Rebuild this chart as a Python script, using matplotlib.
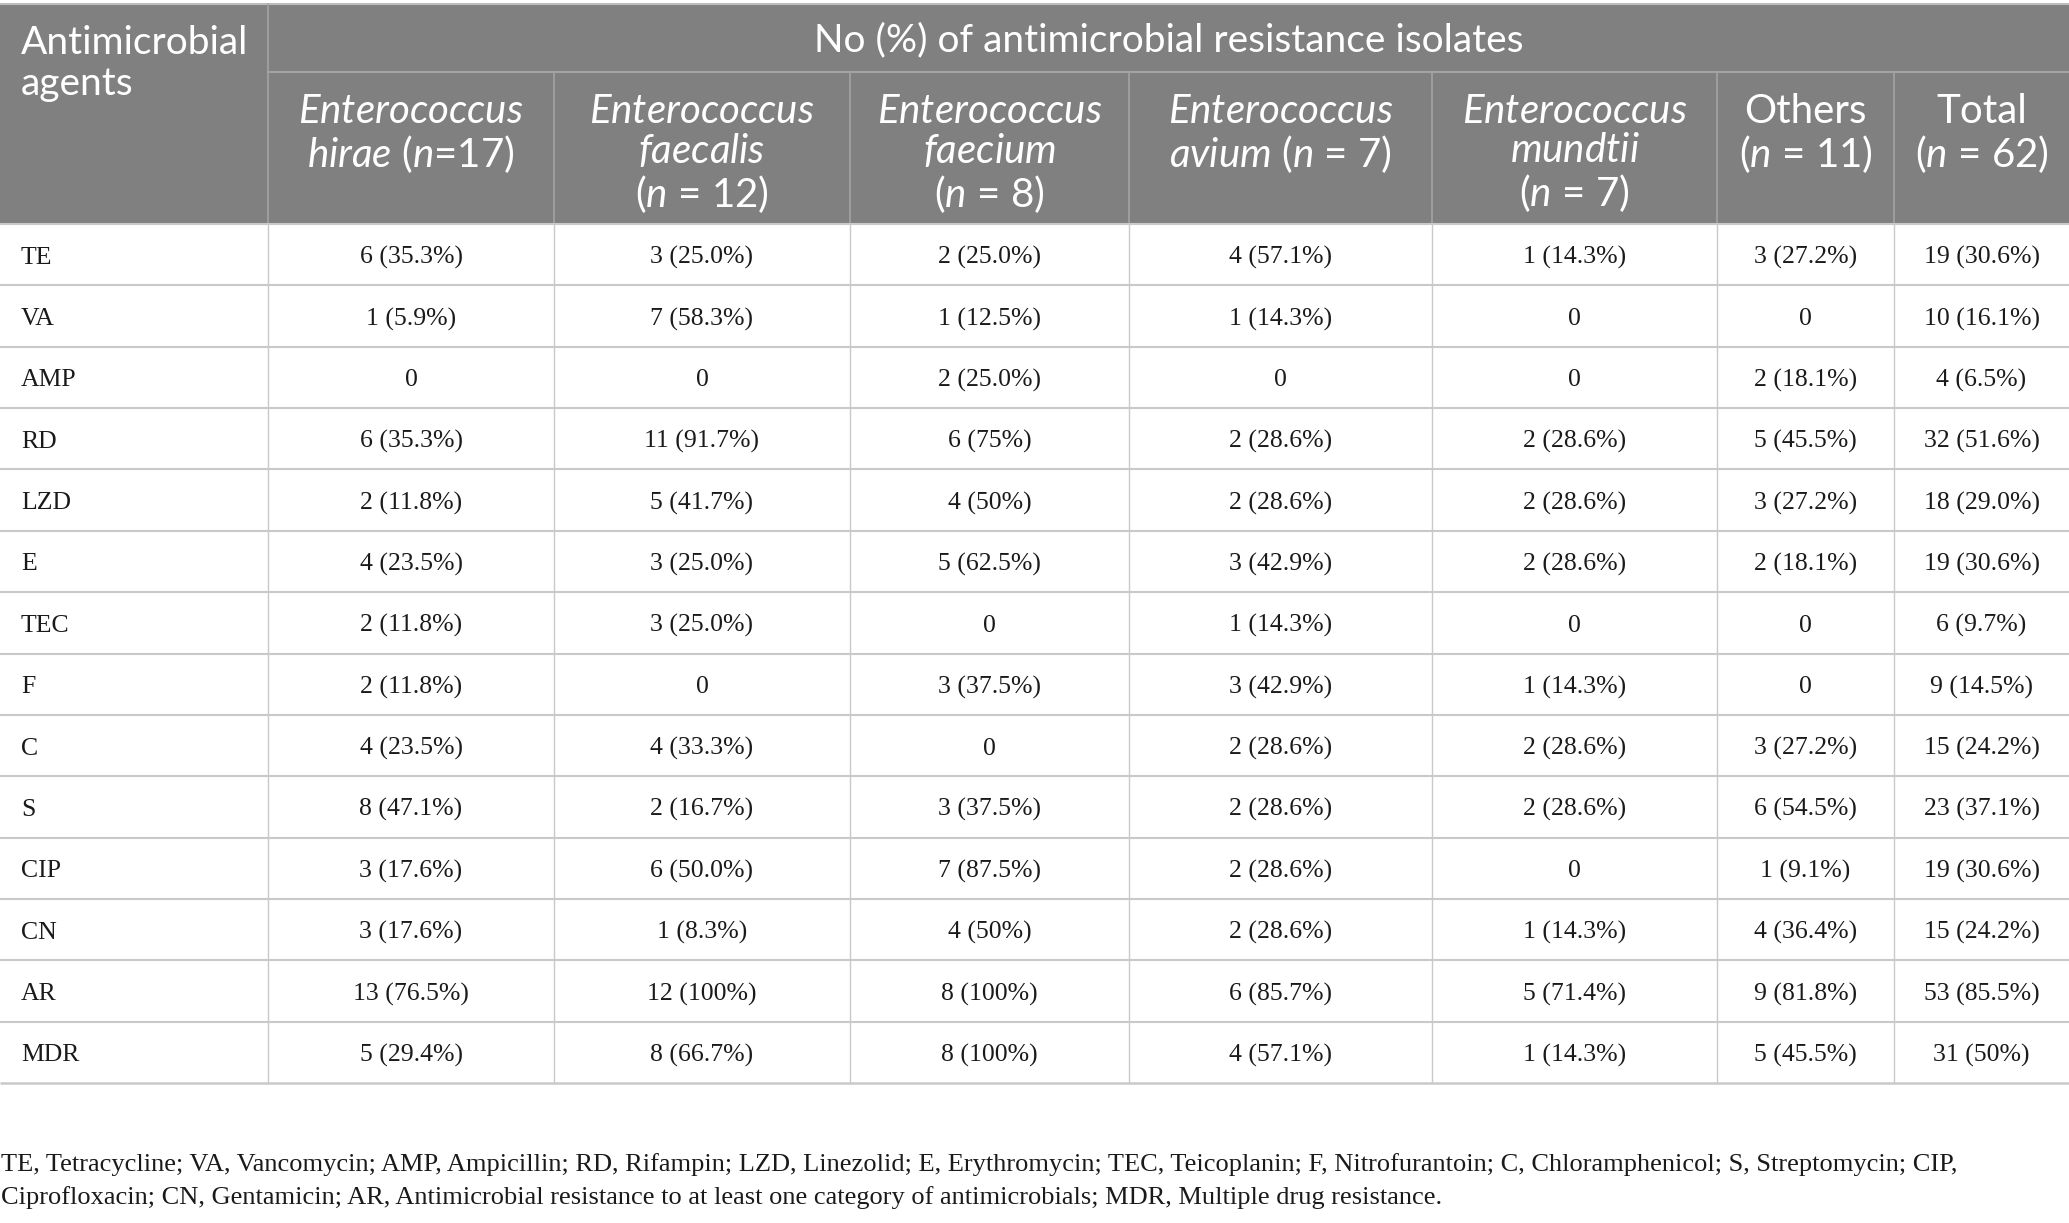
import matplotlib
matplotlib.use("Agg")
import matplotlib.pyplot as plt
import matplotlib.patches as mpatches

# ---- table content -------------------------------------------------------
agents = ["TE", "VA", "AMP", "RD", "LZD", "E", "TEC", "F", "C", "S",
          "CIP", "CN", "AR", "MDR"]

hirae = ["6 (35.3%)", "1 (5.9%)", "0", "6 (35.3%)", "2 (11.8%)", "4 (23.5%)",
         "2 (11.8%)", "2 (11.8%)", "4 (23.5%)", "8 (47.1%)", "3 (17.6%)",
         "3 (17.6%)", "13 (76.5%)", "5 (29.4%)"]
faecalis = ["3 (25.0%)", "7 (58.3%)", "0", "11 (91.7%)", "5 (41.7%)",
            "3 (25.0%)", "3 (25.0%)", "0", "4 (33.3%)", "2 (16.7%)",
            "6 (50.0%)", "1 (8.3%)", "12 (100%)", "8 (66.7%)"]
faecium = ["2 (25.0%)", "1 (12.5%)", "2 (25.0%)", "6 (75%)", "4 (50%)",
           "5 (62.5%)", "0", "3 (37.5%)", "0", "3 (37.5%)", "7 (87.5%)",
           "4 (50%)", "8 (100%)", "8 (100%)"]
avium = ["4 (57.1%)", "1 (14.3%)", "0", "2 (28.6%)", "2 (28.6%)", "3 (42.9%)",
         "1 (14.3%)", "3 (42.9%)", "2 (28.6%)", "2 (28.6%)", "2 (28.6%)",
         "2 (28.6%)", "6 (85.7%)", "4 (57.1%)"]
mundtii = ["1 (14.3%)", "0", "0", "2 (28.6%)", "2 (28.6%)", "2 (28.6%)", "0",
           "1 (14.3%)", "2 (28.6%)", "2 (28.6%)", "0", "1 (14.3%)",
           "5 (71.4%)", "1 (14.3%)"]
others = ["3 (27.2%)", "0", "2 (18.1%)", "5 (45.5%)", "3 (27.2%)", "2 (18.1%)",
          "0", "0", "3 (27.2%)", "6 (54.5%)", "1 (9.1%)", "4 (36.4%)",
          "9 (81.8%)", "5 (45.5%)"]
total = ["19 (30.6%)", "10 (16.1%)", "4 (6.5%)", "32 (51.6%)", "18 (29.0%)",
         "19 (30.6%)", "6 (9.7%)", "9 (14.5%)", "15 (24.2%)", "23 (37.1%)",
         "19 (30.6%)", "15 (24.2%)", "53 (85.5%)", "31 (50%)"]

corner_label = "Antimicrobial\nagents"
group_label = "No (%) of antimicrobial resistance isolates"
col_labels = [
    r"$\mathit{Enterococcus}$" "\n" r"$\mathit{hirae}$ ($\mathit{n}$=17)",
    r"$\mathit{Enterococcus}$" "\n" r"$\mathit{faecalis}$" "\n" r"($\mathit{n}$ = 12)",
    r"$\mathit{Enterococcus}$" "\n" r"$\mathit{faecium}$" "\n" r"($\mathit{n}$ = 8)",
    r"$\mathit{Enterococcus}$" "\n" r"$\mathit{avium}$ ($\mathit{n}$ = 7)",
    r"$\mathit{Enterococcus}$" "\n" r"$\mathit{mundtii}$" "\n" r"($\mathit{n}$ = 7)",
    "Others\n" r"($\mathit{n}$ = 11)",
    "Total\n" r"($\mathit{n}$ = 62)",
]
footnote = ("TE, Tetracycline; VA, Vancomycin; AMP, Ampicillin; RD, Rifampin; "
            "LZD, Linezolid; E, Erythromycin; TEC, Teicoplanin; F, Nitrofurantoin; "
            "C, Chloramphenicol; S, Streptomycin; CIP,\n"
            "Ciprofloxacin; CN, Gentamicin; AR, Antimicrobial resistance to at "
            "least one category of antimicrobials; MDR, Multiple drug resistance.")

columns = [hirae, faecalis, faecium, avium, mundtii, others, total]

# ---- layout (pixels) -----------------------------------------------------
W, H = 2069, 1223
col_edges = [0, 268, 554, 850, 1129, 1432, 1717, 1894, 2069]
head_top, head_mid, head_bot = 4, 72, 224
row_h = (1083 - head_bot) / len(agents)

HEAD_BG = "#808080"
HEAD_LINE = "#a3a3a3"
GRID = "#c9c9c9"
HEAD_FONT = "Lato"
BODY_FONT = "Liberation Serif"

plt.rcParams["mathtext.fontset"] = "custom"
plt.rcParams["mathtext.it"] = "Lato:italic"
plt.rcParams["mathtext.rm"] = "Lato"

fig = plt.figure(figsize=(W / 100, H / 100), dpi=100)
ax = fig.add_axes([0, 0, 1, 1])
ax.set_xlim(0, W)
ax.set_ylim(H, 0)
ax.axis("off")

# header block
ax.add_patch(mpatches.Rectangle((0, head_top), W, head_bot - head_top,
                                facecolor=HEAD_BG, edgecolor="none"))
ax.plot([0, W], [head_top, head_top], color="#bdbdbd", lw=1.5)
ax.plot([col_edges[1], W], [head_mid, head_mid], color=HEAD_LINE, lw=1.5)
ax.plot([col_edges[1]] * 2, [head_top, head_bot], color=HEAD_LINE, lw=1.2)
for x in col_edges[2:-1]:
    ax.plot([x, x], [head_mid, head_bot], color=HEAD_LINE, lw=1.2)

ax.text(21, 25, corner_label, ha="left", va="top", color="white",
        fontsize=28, family=HEAD_FONT, linespacing=1.16)
ax.text((col_edges[1] + W) / 2, (head_top + head_mid) / 2 + 2, group_label,
        ha="center", va="center", color="white", fontsize=28,
        family=HEAD_FONT)
for j, lab in enumerate(col_labels):
    cx = (col_edges[j + 1] + col_edges[j + 2]) / 2
    ax.text(cx, 93, lab, ha="center", va="top", color="white",
            fontsize=29, family=HEAD_FONT, linespacing=1.08)

# body grid
for i in range(len(agents) + 1):
    y = head_bot + i * row_h
    ax.plot([0, W], [y, y], color=GRID, lw=1.8 if i == len(agents) else 1.5,
            solid_capstyle="butt")
for x in col_edges[1:-1]:
    ax.plot([x, x], [head_bot, head_bot + len(agents) * row_h],
            color=GRID, lw=1.0)

# body text
for i, agent in enumerate(agents):
    cy = head_bot + (i + 0.5) * row_h + 3
    ax.text(21, cy, agent, ha="left", va="center", fontsize=18.5,
            family=BODY_FONT, color="#1a1a1a")
    for j, col in enumerate(columns):
        cx = (col_edges[j + 1] + col_edges[j + 2]) / 2
        ax.text(cx, cy, col[i], ha="center", va="center", fontsize=18.5,
                family=BODY_FONT, color="#1a1a1a")

ax.text(1, 1181, footnote, ha="left", va="center", fontsize=19,
        family=BODY_FONT, color="#1a1a1a", linespacing=1.55)

fig.savefig("out.png", dpi=100)
plt.close(fig)
